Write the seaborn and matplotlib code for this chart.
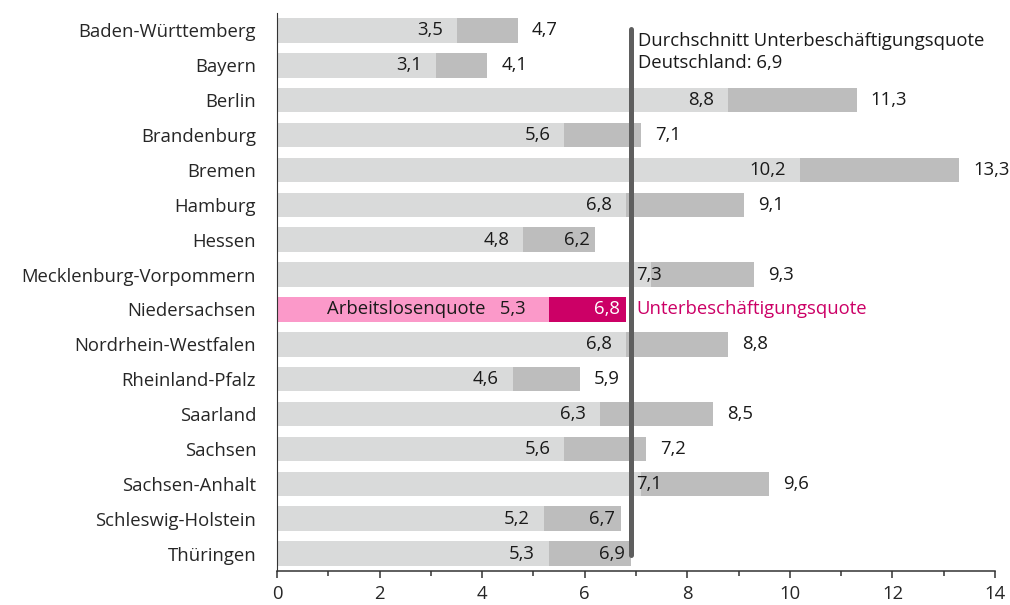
import numpy as np
import pandas as pd
import seaborn as sns
import matplotlib.pyplot as plt
from matplotlib.ticker import MultipleLocator

laender = ['Baden-Württemberg', 'Bayern', 'Berlin', 'Brandenburg', 'Bremen',
           'Hamburg', 'Hessen', 'Mecklenburg-Vorpommern', 'Niedersachsen',
           'Nordrhein-Westfalen', 'Rheinland-Pfalz', 'Saarland', 'Sachsen',
           'Sachsen-Anhalt', 'Schleswig-Holstein', 'Thüringen']
arbeitslosenquote = [3.5, 3.1, 8.8, 5.6, 10.2, 6.8, 4.8, 7.3, 5.3, 6.8, 4.6, 6.3, 5.6, 7.1, 5.2, 5.3]
unterbeschaeftigung = [4.7, 4.1, 11.3, 7.1, 13.3, 9.1, 6.2, 9.3, 6.8, 8.8, 5.9, 8.5, 7.2, 9.6, 6.7, 6.9]
durchschnitt = 6.9
highlight = 'Niedersachsen'
xticks = np.arange(0, 15, 2)

LIGHT, DARK = '#d9dada', '#bdbdbd'
PINK, MAGENTA = '#fb99c9', '#cc0066'
LINE = '#5e5e5e'
TXT = '#1a1a1a'
FS = 13.3

df = pd.DataFrame({'land': laender, 'alq': arbeitslosenquote, 'ubq': unterbeschaeftigung})

sns.set_theme(style='white')
plt.rcParams['font.family'] = ['Open Sans', 'DejaVu Sans']
plt.rcParams['font.size'] = FS
plt.rcParams['text.color'] = TXT


def fmt(v):
    return f'{v:.1f}'.replace('.', ',')


fig = plt.figure(figsize=(10.1, 6.05), dpi=100)
ax = fig.add_axes([0.2743, 0.0562, 0.7109, 0.9223])

pal_dark = {l: (MAGENTA if l == highlight else DARK) for l in laender}
pal_light = {l: (PINK if l == highlight else LIGHT) for l in laender}
sns.barplot(data=df, x='ubq', y='land', hue='land', palette=pal_dark, orient='h',
            width=0.7, legend=False, saturation=1, linewidth=0, ax=ax)
sns.barplot(data=df, x='alq', y='land', hue='land', palette=pal_light, orient='h',
            width=0.7, legend=False, saturation=1, linewidth=0, ax=ax)

# Durchschnittslinie
ax.vlines(durchschnitt, -0.05, len(laender) - 1 + 0.05, color=LINE, lw=3.6,
          capstyle='round', zorder=5)
ax.annotate('Durchschnitt Unterbeschäftigungsquote\nDeutschland: 6,9',
            xy=(durchschnitt, -0.5), xytext=(5, -14), textcoords='offset points',
            ha='left', va='top', fontsize=FS, linespacing=1.25, color=TXT)

for i, (l, a, u) in enumerate(zip(laender, arbeitslosenquote, unterbeschaeftigung)):
    hl = l == highlight
    # Arbeitslosenquote
    if durchschnitt < a < durchschnitt + 0.8:
        ax.annotate(fmt(a), (durchschnitt, i), xytext=(4, 0), textcoords='offset points',
                    ha='left', va='center', fontsize=FS, zorder=6)
    elif hl:
        ax.annotate('Arbeitslosenquote   ' + fmt(a), (a, i), xytext=(-17, 0),
                    textcoords='offset points', ha='right', va='center',
                    fontsize=FS, zorder=6)
    else:
        ax.annotate(fmt(a), (a, i), xytext=(-10, 0), textcoords='offset points',
                    ha='right', va='center', fontsize=FS, zorder=6)
    # Unterbeschaeftigungsquote
    if u <= durchschnitt and u - a >= 1.4:
        ax.annotate(fmt(u), (u, i), xytext=(-4, 0), textcoords='offset points',
                    ha='right', va='center', fontsize=FS, zorder=6,
                    color='white' if hl else TXT)
    else:
        ax.annotate(fmt(u), (u, i), xytext=(10, 0), textcoords='offset points',
                    ha='left', va='center', fontsize=FS, zorder=6)
    if hl:
        ax.annotate('Unterbeschäftigungsquote', (durchschnitt, i), xytext=(4, 0),
                    textcoords='offset points', ha='left', va='center',
                    fontsize=FS, color=MAGENTA, zorder=6)

ax.set_xlim(0, 14)
ax.set_ylim(len(laender) - 0.5, -0.5)
ax.set_xticks(xticks)
ax.xaxis.set_minor_locator(MultipleLocator(1))
ax.tick_params(axis='x', which='major', bottom=True, length=5, width=1.1,
               color='#333333', labelsize=FS, pad=5)
ax.tick_params(axis='x', which='minor', bottom=True, length=3.5, width=1.1, color='#333333')
ax.tick_params(axis='y', length=0, labelsize=FS, pad=15)
ax.set_xlabel('')
ax.set_ylabel('')
for s in ['top', 'right']:
    ax.spines[s].set_visible(False)
ax.spines['bottom'].set_color('#333333')
ax.spines['bottom'].set_linewidth(1.1)
ax.spines['left'].set_color('#333333')
ax.spines['left'].set_linewidth(0.8)

fig.savefig('out.png', dpi=100)
